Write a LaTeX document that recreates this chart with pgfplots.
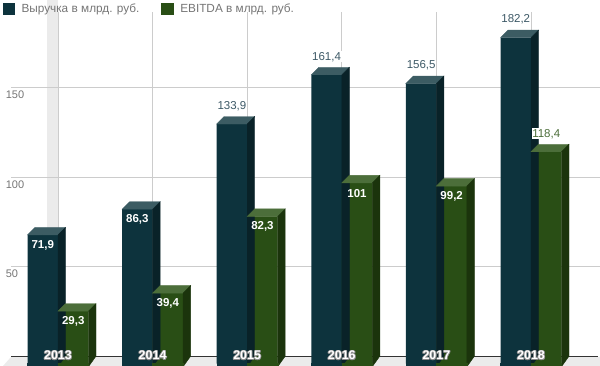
\documentclass[border=0pt]{standalone}
\usepackage{pgfplots}
\pgfplotsset{compat=1.18}
\usepackage{pgfplotstable}
\usepackage{fontspec}
\setmainfont{Liberation Sans}

\definecolor{revfront}{HTML}{0D333D}
\definecolor{revtop}{HTML}{3C5C63}
\definecolor{revside}{HTML}{092228}
\definecolor{ebfront}{HTML}{294E15}
\definecolor{ebtop}{HTML}{4C6E3A}
\definecolor{ebside}{HTML}{1B340C}
\definecolor{revlabel}{HTML}{3D5966}
\definecolor{eblabel}{HTML}{4C6E3A}
\definecolor{tickgray}{HTML}{757575}
\definecolor{gridgray}{HTML}{CCCCCC}
\definecolor{wallgray}{HTML}{EBEBEB}
\definecolor{yeargray}{HTML}{8A8A8A}

% white text with a thin grey outline
\newcommand\outl[1]{%
  \rlap{\color{yeargray}\hspace{0.75pt}#1}%
  \rlap{\color{yeargray}\hspace{-0.75pt}#1}%
  \rlap{\color{yeargray}\raisebox{0.75pt}{#1}}%
  \rlap{\color{yeargray}\raisebox{-0.75pt}{#1}}%
  \rlap{\color{yeargray}\hspace{0.55pt}\raisebox{0.55pt}{#1}}%
  \rlap{\color{yeargray}\hspace{-0.55pt}\raisebox{0.55pt}{#1}}%
  \rlap{\color{yeargray}\hspace{0.55pt}\raisebox{-0.55pt}{#1}}%
  \rlap{\color{yeargray}\hspace{-0.55pt}\raisebox{-0.55pt}{#1}}%
  #1}

\pgfplotstableread{
x      rev    ebitda  yr
58     71.9   29.3    2013
152.6  86.3   39.4    2014
247.2  133.9  82.3    2015
341.8  161.4  101     2016
436.4  156.5  99.2    2017
531.0  182.2  118.4   2018
}\data

\begin{document}
\begin{tikzpicture}
\useasboundingbox (0,0) rectangle (600pt,366pt);
\begin{axis}[
  at={(0pt,0pt)}, anchor=south west,
  scale only axis, width=600pt, height=366pt,
  xmin=0, xmax=600, ymin=-1.285, ymax=203.18,
  clip=false,
  axis line style={draw=none},
  tick style={draw=none},
  /pgf/number format/assume math mode=true,
  ytick={50,100,150},
  yticklabel style={anchor=west, xshift=2.3pt, font=\fontsize{11}{12}\selectfont, text=tickgray},
  xtick=\empty,
  legend style={at={(rel axis cs:0,1)}, anchor=north west, xshift=2.7pt, yshift=-1.5pt,
    draw=none, fill=none, inner sep=0pt, outer sep=0pt,
    font=\fontsize{11.8}{13}\selectfont, text=tickgray,
    /tikz/every even column/.append style={column sep=20pt},
    /tikz/every odd column/.append style={column sep=5pt}},
  legend columns=-1,
  legend cell align=left,
]
% back wall band, floor, grid
\fill[wallgray] (axis cs:46.5,3.743) rectangle (axis cs:57.5,203.18);
\fill[wallgray] (axis cs:11,3.743) -- (axis cs:600,3.743) -- (axis cs:600,-1.285) -- (axis cs:3,-1.285) -- cycle;
\draw[gridgray, line width=0.9pt] (axis cs:11,54.19) -- (axis cs:600,54.19);
\draw[gridgray, line width=0.9pt] (axis cs:11,104.19) -- (axis cs:600,104.19);
\draw[gridgray, line width=0.9pt] (axis cs:11,154.19) -- (axis cs:600,154.19);
\foreach \c in {58,152.6,247.2,341.8,436.4,531}{
  \edef\tmp{\noexpand\draw[gridgray, line width=0.9pt] (axis cs:\c,3.743) -- (axis cs:\c,196.5);}\tmp
}
\draw[black!80, line width=1pt] (axis cs:11,3.743) -- (axis cs:598,3.743);

\addlegendimage{legend image code/.code={\fill[revfront] (0pt,-5.7pt) rectangle (11.4pt,5.7pt);}}
\addlegendentry{Выручка в млрд. руб.}
\addlegendimage{legend image code/.code={\fill[ebfront] (0pt,-5.7pt) rectangle (11.4pt,5.7pt);}}
\addlegendentry{EBITDA в млрд. руб.}

% revenue bars
\addplot[ybar, bar width=30.5pt, bar shift=-15.25pt, fill=revfront, draw=none, forget plot]
  table[x=x, y=rev] {\data};
\addplot[scatter, only marks, mark=*, mark size=0pt, mark options={draw=none, fill=none}, forget plot,
  visualization depends on={\thisrow{rev} \as \barval},
  scatter/@pre marker code/.code={%
    \pgfmathsetmacro\hh{\barval*1.79004}%
    \fill[revtop] (-15.25pt,0pt) -- (15.25pt,0pt) -- (22.75pt,7.5pt) -- (-7.75pt,7.5pt) -- cycle;
    \fill[revside] (15.25pt,0pt) -- (22.75pt,7.5pt) -- (22.75pt,{7.5pt-\hh pt}) -- (15.25pt,{-\hh pt-3pt}) -- cycle;
    \fill[revfront] (-15.25pt,{-\hh pt+0.5pt}) rectangle (15.25pt,{-\hh pt-3pt});
  },
  scatter/@post marker code/.code={}]
  table[x expr=\thisrow{x}-15.25, y=rev] {\data};

% EBITDA bars
\addplot[ybar, bar width=30.5pt, bar shift=15.25pt, fill=ebfront, draw=none, forget plot]
  table[x=x, y=ebitda] {\data};
\addplot[scatter, only marks, mark=*, mark size=0pt, mark options={draw=none, fill=none}, forget plot,
  visualization depends on={\thisrow{ebitda} \as \barval},
  scatter/@pre marker code/.code={%
    \pgfmathsetmacro\hh{\barval*1.79004}%
    \fill[ebtop] (-15.25pt,0pt) -- (15.25pt,0pt) -- (22.75pt,7.5pt) -- (-7.75pt,7.5pt) -- cycle;
    \fill[ebside] (15.25pt,0pt) -- (22.75pt,7.5pt) -- (22.75pt,{7.5pt-\hh pt}) -- (15.25pt,{-\hh pt-3pt}) -- cycle;
    \fill[ebfront] (-15.25pt,{-\hh pt+0.5pt}) rectangle (15.25pt,{-\hh pt-3pt});
  },
  scatter/@post marker code/.code={}]
  table[x expr=\thisrow{x}+15.25, y=ebitda] {\data};

% value labels
\pgfplotsset{
  inlab/.style={draw=none, mark=none, forget plot, point meta=y,
    nodes near coords={\pgfmathprintnumber[use comma,fixed,precision=1]{\pgfplotspointmeta}},
    nodes near coords style={font=\bfseries\fontsize{11.5}{12}\selectfont, text=white, anchor=center, yshift=-10.5pt}},
  outlab/.style={draw=none, mark=none, forget plot, point meta=y,
    nodes near coords={\pgfmathprintnumber[use comma,fixed,precision=1]{\pgfplotspointmeta}},
    nodes near coords style={font=\fontsize{11.5}{12}\selectfont, text=#1, fill=white, inner sep=0.6pt, anchor=center, yshift=18pt}},
}
\addplot[inlab] coordinates {(42.75,71.9) (137.35,86.3)};
\addplot[outlab=revlabel] coordinates {(231.95,133.9) (326.55,161.4) (421.15,156.5) (515.75,182.2)};
\addplot[inlab] coordinates {(73.25,29.3) (167.85,39.4) (262.45,82.3) (357.05,101) (451.65,99.2)};
\addplot[outlab=eblabel] coordinates {(546.25,118.4)};

% category labels on top
\addplot[draw=none, mark=none, forget plot, point meta=explicit symbolic,
  nodes near coords={\outl{\pgfplotspointmeta}},
  nodes near coords style={font=\bfseries\fontsize{12.5}{13}\selectfont, text=white, anchor=center, yshift=8pt}]
  table[x=x, y expr=0, meta=yr] {\data};
\end{axis}
\end{tikzpicture}
\end{document}
